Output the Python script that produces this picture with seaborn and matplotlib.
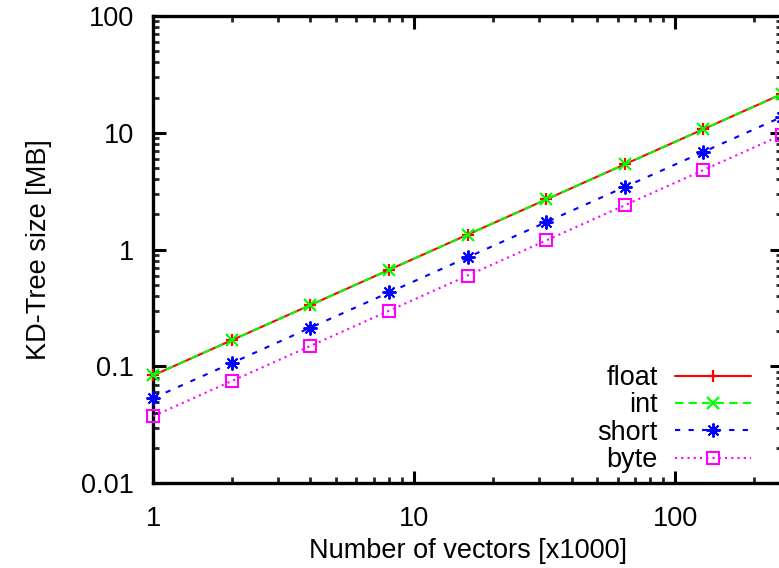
import matplotlib
matplotlib.use("Agg")
import matplotlib.pyplot as plt
import seaborn as sns
import pandas as pd
from matplotlib.ticker import LogLocator, NullFormatter, FixedLocator, FixedFormatter

# Tree sizes in MB per element type, by number of vectors (thousands)
n_vectors = [1, 2, 4, 8, 16, 32, 64, 128, 256]
size_float = [0.084, 0.168, 0.336, 0.672, 1.344, 2.69, 5.38, 10.75, 21.5]
size_int = [0.084, 0.168, 0.336, 0.672, 1.344, 2.69, 5.38, 10.75, 21.5]
size_short = [0.0537, 0.107, 0.215, 0.43, 0.86, 1.72, 3.44, 6.87, 13.7]
size_byte = [0.0376, 0.0752, 0.15, 0.30, 0.60, 1.20, 2.40, 4.80, 9.6]

x_ticks = [1, 10, 100]
x_tick_labels = ["1", "10", "100"]
y_ticks = [0.01, 0.1, 1, 10, 100]
y_tick_labels = ["0.01", "0.1", "1", "10", "100"]

series = {"float": size_float, "int": size_int, "short": size_short, "byte": size_byte}
df = pd.concat(
    [pd.DataFrame({"n": n_vectors, "size": v, "type": k}) for k, v in series.items()],
    ignore_index=True,
)

sns.set_style("ticks")
plt.rcParams["font.family"] = ["Liberation Sans", "DejaVu Sans"]
plt.rcParams["text.color"] = "black"
plt.rcParams["axes.labelcolor"] = "black"

FS = 19.5

styles = {
    "float": dict(color="#ff0000", ls="-", marker="+", ms=9, mew=1.6),
    "int": dict(color="#00ff00", ls=(0, (4, 2.5)), marker="x", ms=8.5, mew=1.6),
    "short": dict(color="#0000ff", ls=(0, (2.5, 4)), marker=(8, 2, 0), ms=10, mew=1.4),
    "byte": dict(color="#ff00ff", ls=(0, (1, 2)), marker="s", ms=9, mew=1.5,
                 mfc="none"),
}

fig = plt.figure(figsize=(7.79, 5.68), dpi=100)
ax = fig.add_axes([153.3 / 779, 84.7 / 568, (782 - 153.3) / 779, (483.3 - 16) / 568])

for name in series:
    st = styles[name]
    sub = df[df["type"] == name]
    sns.lineplot(
        data=sub, x="n", y="size", ax=ax, label=name,
        color=st["color"], linestyle=st["ls"], linewidth=1.5,
        marker=st["marker"], markersize=st["ms"], markeredgewidth=st["mew"],
        markeredgecolor=st["color"],
        markerfacecolor=st.get("mfc", st["color"]),
        clip_on=False, zorder=3,
    )

ax.set_xscale("log")
ax.set_yscale("log")
ax.set_xlim(1, 256)
ax.set_ylim(0.01, 100)

ax.xaxis.set_major_locator(FixedLocator(x_ticks))
ax.xaxis.set_major_formatter(FixedFormatter(x_tick_labels))
ax.yaxis.set_major_locator(FixedLocator(y_ticks))
ax.yaxis.set_major_formatter(FixedFormatter(y_tick_labels))
ax.xaxis.set_minor_locator(LogLocator(base=10, subs=range(2, 10), numticks=20))
ax.yaxis.set_minor_locator(LogLocator(base=10, subs=range(2, 10), numticks=20))
ax.xaxis.set_minor_formatter(NullFormatter())
ax.yaxis.set_minor_formatter(NullFormatter())

for sp in ax.spines.values():
    sp.set_visible(True)
    sp.set_linewidth(2.4)
    sp.set_color("black")

ax.tick_params(which="major", direction="in", length=9, width=2.2,
               top=True, right=True, labelsize=FS, colors="black", pad=14)
ax.tick_params(which="minor", direction="in", length=4.5, width=2.0,
               top=True, right=True)
ax.tick_params(axis="x", which="major", pad=16)

ax.set_xlabel("Number of vectors [x1000]", fontsize=FS, labelpad=5)
ax.set_ylabel("KD-Tree size [MB]", fontsize=FS, labelpad=21)

leg = ax.legend(
    loc="upper right", bbox_to_anchor=(751 / 779, 1 - 365 / 568),
    bbox_transform=fig.transFigure, frameon=False, markerfirst=False,
    fontsize=FS, handlelength=2.8, handletextpad=0.65, labelspacing=0.05,
    borderpad=0, borderaxespad=0,
)
for t in leg.get_texts():
    t.set_ha("right")

fig.savefig("out.png", dpi=100)
